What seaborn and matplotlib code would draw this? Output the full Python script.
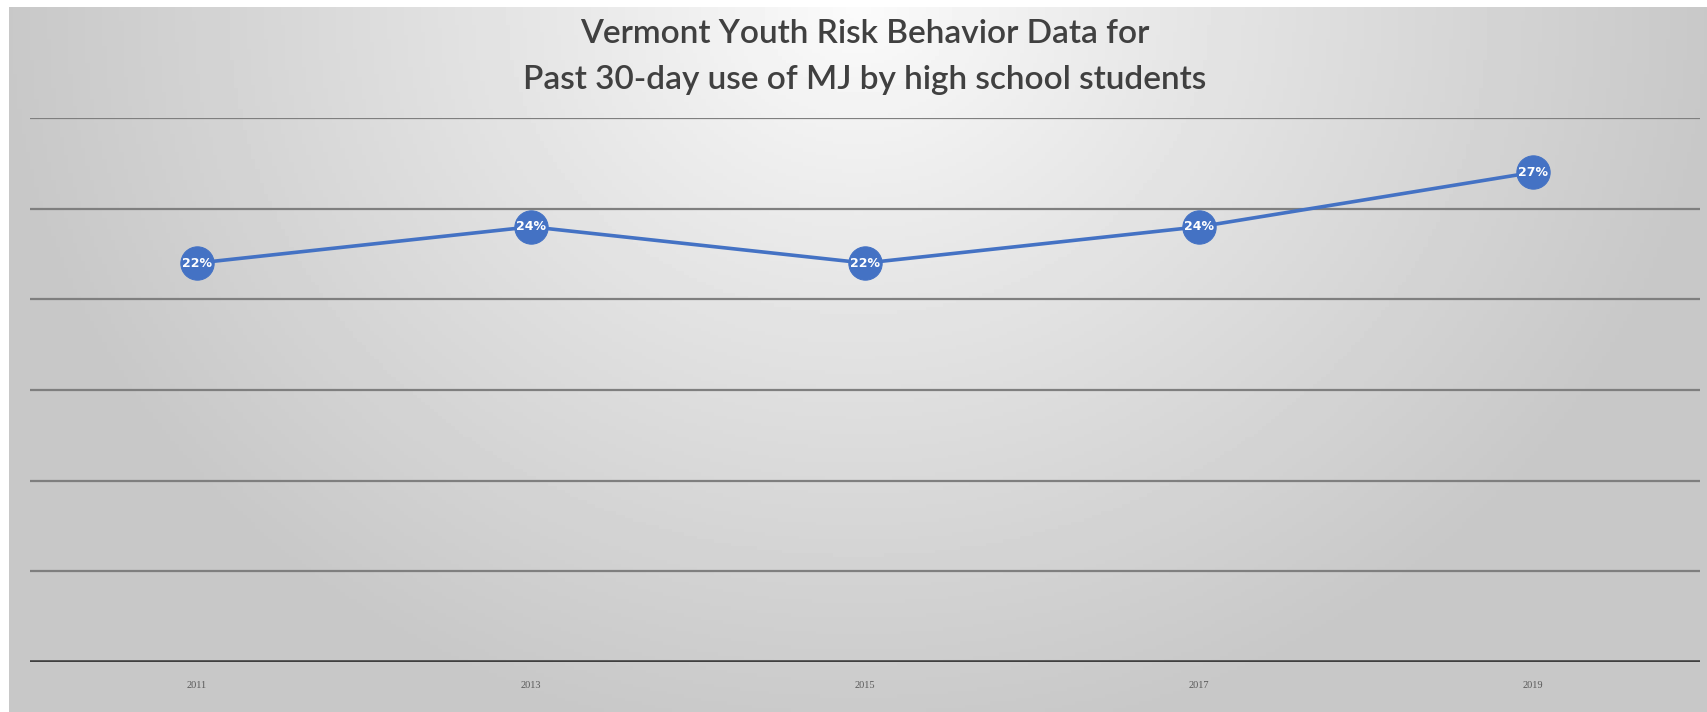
import numpy as np
import pandas as pd
import seaborn as sns
import matplotlib.pyplot as plt

# Data
years = ['2011', '2013', '2015', '2017', '2019']
use_pct = [22, 24, 22, 24, 27]
point_labels = ['22%', '24%', '22%', '24%', '27%']

df = pd.DataFrame({'year': years, 'pct': use_pct})

sns.set_theme(style='white')
plt.rcParams['font.family'] = ['Lato', 'DejaVu Sans']

fig = plt.figure(figsize=(17.08, 7.12), dpi=100)

# Gray radial background, lighter at top centre
bg = fig.add_axes([0, 0, 1, 1], zorder=0)
gx, gy = np.meshgrid(np.linspace(-1, 1, 400), np.linspace(0, 1, 200))
dist = np.sqrt((gx / 1.0) ** 2 + (gy / 1.05) ** 2)
shade = 0.985 - 0.20 * np.clip(dist, 0, 1) ** 0.9
bg.imshow(shade, cmap='gray', vmin=0, vmax=1, aspect='auto',
          extent=[9 / 1708, 1, 0, 1 - 7 / 712], origin='upper')
bg.set_xlim(0, 1)
bg.set_ylim(0, 1)
bg.axis('off')

ax = fig.add_axes([30 / 1708, 50 / 712, 1670 / 1708, 544 / 712], zorder=1)
ax.patch.set_alpha(0)

sns.lineplot(data=df, x='year', y='pct', ax=ax, color='#4472C4', linewidth=2.6,
             marker='o', markersize=24, markeredgecolor='#4472C4', sort=False, zorder=3)

for i, (v, lab) in enumerate(zip(use_pct, point_labels)):
    ax.text(i, v, lab, ha='center', va='center', color='white', fontsize=9,
            fontweight='bold', zorder=4, family=['DejaVu Sans'])

ax.set_xlim(-0.5, 4.5)
ax.set_ylim(0, 30)
ax.set_yticks([0, 5, 10, 15, 20, 25, 30])
ax.set_yticklabels([])
for y in [5, 10, 15, 20, 25, 30]:
    ax.axhline(y, color='#7f7f7f', linewidth=1.6, zorder=1)
ax.axhline(0, color='#404040', linewidth=2.6, zorder=2)
for s in ax.spines.values():
    s.set_visible(False)
ax.tick_params(axis='y', length=0)
ax.tick_params(axis='x', length=0, pad=14)
ax.set_xticks(range(len(years)))
ax.set_xticklabels(years, fontsize=7.5, color='#595959', family=['Liberation Serif'])
ax.set_xlabel('')
ax.set_ylabel('')

fig.text(865 / 1708, 1 - 34 / 712, 'Vermont Youth Risk Behavior Data for',
         ha='center', va='center', fontsize=24, fontweight='semibold', color='#404040')
fig.text(865 / 1708, 1 - 80 / 712, 'Past 30-day use of MJ by high school students',
         ha='center', va='center', fontsize=24, fontweight='semibold', color='#404040')

fig.savefig('out.png', dpi=100)
